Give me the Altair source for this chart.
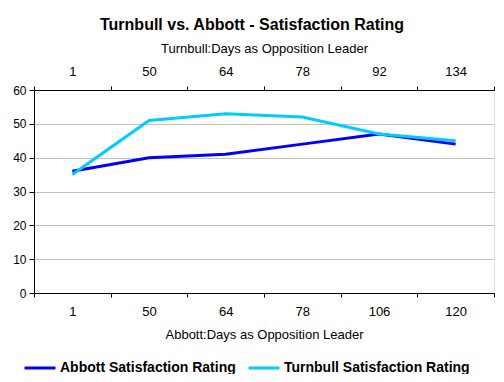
import altair as alt
import pandas as pd

abbott_days = ["1", "50", "64", "78", "106", "120"]
turnbull_days = ["1", "50", "64", "78", "92", "134"]
abbott_values = [36, 40, 41, 44, 47, 44]
turnbull_values = [35, 51, 53, 52, 47, 45]
series_names = ["Abbott Satisfaction Rating", "Turnbull Satisfaction Rating"]
series_colors = ["#0000FF", "#00CCFF"]

df_a = pd.DataFrame({"day": abbott_days, "value": abbott_values, "series": series_names[0]})
df_t = pd.DataFrame({"day": turnbull_days, "value": turnbull_values, "series": series_names[1]})

FONT = "Liberation Sans"

color = alt.Color(
    "series:N",
    scale=alt.Scale(domain=series_names, range=series_colors),
    legend=alt.Legend(
        title=None,
        orient="none",
        direction="horizontal",
        legendX=-11,
        legendY=261,
        padding=0,
        symbolType="stroke",
        symbolSize=961,
        symbolStrokeWidth=3,
        labelFont=FONT,
        labelFontSize=14,
        labelFontWeight="bold",
        labelColor="#000000",
        labelLimit=0,
        columnPadding=6,
        symbolOffset=0,
        labelOffset=3,
    ),
)

yenc = alt.Y(
    "value:Q",
    scale=alt.Scale(domain=[0, 60]),
    axis=alt.Axis(
        values=[0, 10, 20, 30, 40, 50, 60],
        title=None,
        grid=True,
        gridColor="#C0C0C0",
        domainColor="#000000",
        tickColor="#000000",
        tickSize=5,
        labelPadding=3,
        labelFont=FONT,
        labelFontSize=12,
        labelColor="#000000",
    ),
)

band = alt.Scale(type="band", paddingInner=0, paddingOuter=0)

abbott = alt.Chart(df_a).mark_line(strokeWidth=3).encode(
    x=alt.X(
        "day:O",
        sort=abbott_days,
        scale=band,
        bandPosition=0.5,
        axis=alt.Axis(
            orient="bottom",
            title="Abbott:Days as Opposition Leader",
            labelAngle=0,
            tickBand="extent",
            tickSize=4,
            labelPadding=8,
            titlePadding=10,
            domainColor="#000000",
            tickColor="#000000",
            labelFont=FONT,
            labelFontSize=13,
            labelColor="#000000",
            titleFont=FONT,
            titleFontSize=13,
            titleFontWeight="normal",
            titleColor="#000000",
        ),
    ),
    y=yenc,
    color=color,
)

turnbull = alt.Chart(df_t).mark_line(strokeWidth=3).encode(
    x=alt.X(
        "day:O",
        sort=turnbull_days,
        scale=band,
        bandPosition=0.5,
        axis=alt.Axis(
            orient="top",
            title="Turnbull:Days as Opposition Leader",
            labelAngle=0,
            tickBand="extent",
            tickSize=4,
            labelPadding=8,
            titlePadding=10,
            domainColor="#000000",
            tickColor="#000000",
            labelFont=FONT,
            labelFontSize=13,
            labelColor="#000000",
            titleFont=FONT,
            titleFontSize=13,
            titleFontWeight="normal",
            titleColor="#000000",
        ),
    ),
    y=yenc,
    color=color,
)

chart = (
    alt.layer(abbott, turnbull)
    .resolve_scale(x="independent")
    .resolve_axis(x="independent")
    .properties(
        width=460,
        height=203,
        autosize=alt.AutoSizeParams(type="none"),
        padding={"left": 26, "top": 82, "right": 2, "bottom": 81},
        title=alt.TitleParams(
            "Turnbull vs. Abbott - Satisfaction Rating",
            font=FONT,
            fontSize=16,
            fontWeight="bold",
            color="#000000",
            anchor="middle",
            dx=-12,
            offset=9,
        ),
    )
    .configure_view(stroke="#808080", strokeWidth=1)
    .configure(background="#FFFFFF")
)

chart.save("out.html", embed_options={"renderer": "svg", "actions": False})
